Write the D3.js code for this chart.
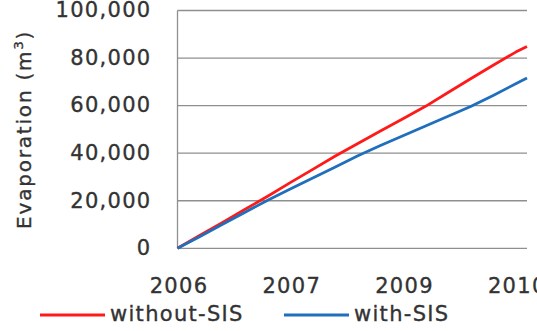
<!DOCTYPE html>
<html>
<head>
<meta charset="utf-8">
<script src="https://cdn.jsdelivr.net/npm/d3@7"></script>
<style>
  body { margin: 0; background: #fff; }
  text { font-family: "DejaVu Sans", sans-serif; fill: #333; stroke: #333; stroke-width: 0.35px; letter-spacing: 1.3px; }
</style>
</head>
<body>
<script>
var fullWidth = 537;
var fullHeight = 331;

var margin = {top: 10.5, right: 10, bottom: 82.7, left: 177.5};

var width = fullWidth - margin.left - margin.right;
var height = fullHeight - margin.top - margin.bottom;

// time step index (sampling along the simulation period)
var steps = [0, 100, 200, 300, 400, 500, 600, 700, 800, 900, 1000, 1100, 1200, 1300, 1400, 1500, 1550];

// cumulative evaporation (m3)
var withoutSIS = [0, 5500, 10900, 16400, 21900, 27600, 33200, 38800, 44100, 49300, 54500, 59700, 65500, 71300, 77000, 82500, 84900];
var withSIS = [0, 5000, 10100, 15200, 20200, 24900, 29600, 34200, 38900, 43200, 47300, 51400, 55500, 59600, 64300, 69200, 71600];

var xTickSteps = [0, 500, 1000, 1500];
var xTickLabels = ["2006", "2007", "2009", "2010"];
var yTicks = [0, 20000, 40000, 60000, 80000, 100000];

var seriesNames = ["without-SIS", "with-SIS"];
var seriesColors = ["#ff1a1a", "#1f6fbd"];

var svg = d3.select("body")
            .append("svg")
            .attr("width", fullWidth)
            .attr("height", fullHeight);

var xScale = d3.scaleLinear()
               .domain([0, 1550])
               .range([margin.left, margin.left + width]);

var yScale = d3.scaleLinear()
               .domain([0, 100000])
               .range([margin.top + height, margin.top]);

// gridlines
svg.selectAll(".grid")
   .data(yTicks)
   .enter()
   .append("line")
   .attr("class", "grid")
   .attr("x1", margin.left)
   .attr("x2", margin.left + width)
   .attr("y1", function(d) { return yScale(d); })
   .attr("y2", function(d) { return yScale(d); })
   .style("stroke", "#8f8f8f")
   .style("stroke-width", 1.3);

// left axis line
svg.append("line")
   .attr("x1", margin.left)
   .attr("x2", margin.left)
   .attr("y1", yScale(100000))
   .attr("y2", yScale(0))
   .style("stroke", "#8f8f8f")
   .style("stroke-width", 1.3);

// y tick labels
var yAxis = d3.axisLeft(yScale)
              .tickValues(yTicks)
              .tickSize(0)
              .tickPadding(26)
              .tickFormat(d3.format(","));

svg.append("g")
   .attr("transform", "translate(" + margin.left + ",0)")
   .call(yAxis)
   .call(function(g) { g.select(".domain").remove(); })
   .selectAll("text")
   .style("font-size", "21px")
   .style("fill", "#333")
   .attr("dy", "0.3em");

// x tick labels
var xAxis = d3.axisBottom(xScale)
              .tickValues(xTickSteps)
              .tickSize(0)
              .tickFormat(function(d, i) { return xTickLabels[i]; });

svg.append("g")
   .attr("transform", "translate(0," + (margin.top + height) + ")")
   .call(xAxis)
   .call(function(g) { g.select(".domain").remove(); })
   .selectAll("text")
   .style("font-size", "21px")
   .style("fill", "#333")
   .attr("y", 45)
   .attr("dy", 0)
   .attr("x", 1);

// lines
var line = d3.line()
             .x(function(d) { return xScale(d[0]); })
             .y(function(d) { return yScale(d[1]); });

var series = [withoutSIS, withSIS];

svg.selectAll(".series")
   .data(series)
   .enter()
   .append("path")
   .attr("class", "series")
   .attr("d", function(vals) {
       return line(steps.map(function(s, i) { return [s, vals[i]]; }));
   })
   .style("fill", "none")
   .style("stroke", function(d, i) { return seriesColors[i]; })
   .style("stroke-width", 2.8)
   .style("stroke-linejoin", "round");

// y axis title
var title = svg.append("text")
   .attr("transform", "translate(31," + (margin.top + height / 2) + ") rotate(-90)")
   .style("text-anchor", "middle")
   .style("font-size", "20px")
   .style("letter-spacing", "1.8px");

title.append("tspan").text("Evaporation (m");
title.append("tspan").attr("dy", -8).style("font-size", "13px").text("3");
title.append("tspan").attr("dy", 8).text(")");

// legend
var legendX = [40, 284];

var legend = svg.selectAll(".legend")
                .data(seriesNames)
                .enter()
                .append("g")
                .attr("class", "legend")
                .attr("transform", function(d, i) {
                    return "translate(" + legendX[i] + ",0)";
                });

legend.append("line")
      .attr("x1", 0)
      .attr("x2", 65)
      .attr("y1", 315)
      .attr("y2", 315)
      .style("stroke", function(d, i) { return seriesColors[i]; })
      .style("stroke-width", 2.8);

legend.append("text")
      .attr("x", 70)
      .attr("y", 321)
      .style("font-size", "21px")
      .text(function(d) { return d; });
</script>
</body>
</html>
